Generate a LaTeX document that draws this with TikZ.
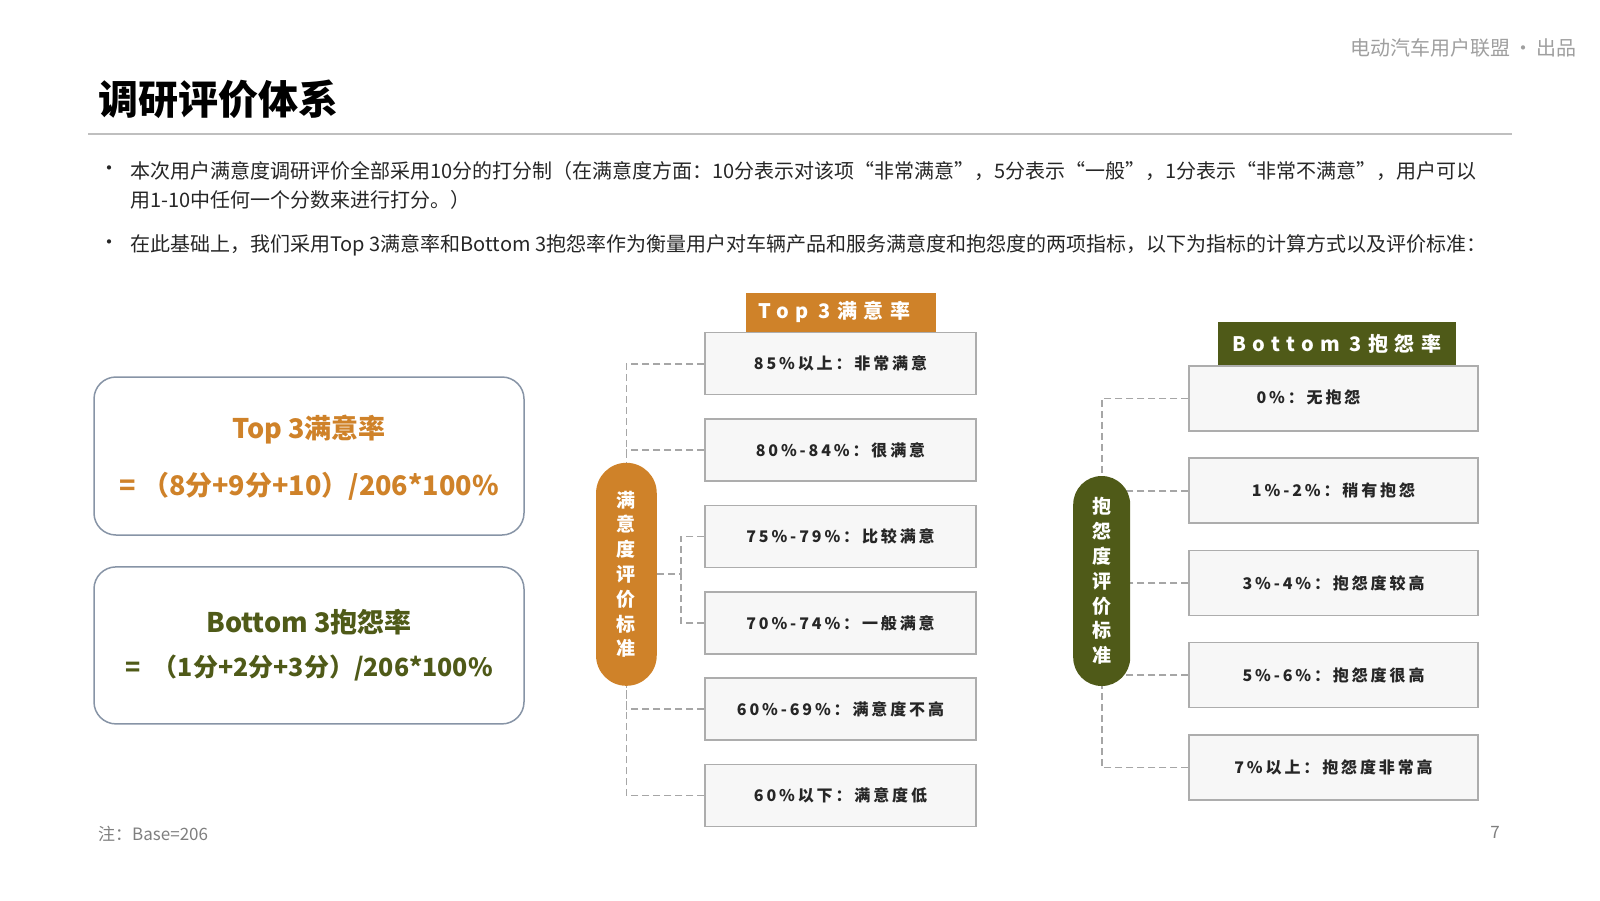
\documentclass[tikz,border=0pt]{standalone}
\usepackage{fontspec}
\setmainfont{Noto Sans CJK SC}
\newfontfamily\spacedfont{Noto Sans CJK SC}[LetterSpace=18]
\newfontfamily\headfont{Noto Sans CJK SC}[LetterSpace=32]
\usepackage{xcolor}
\usepackage{tikz}
\usetikzlibrary{positioning,backgrounds}

\definecolor{topOrange}{HTML}{CF8229}
\definecolor{botOlive}{HTML}{4F5A18}
\definecolor{boxFill}{HTML}{F7F7F7}
\definecolor{boxLine}{HTML}{ADADAD}
\definecolor{dashGray}{HTML}{A6A6A6}
\definecolor{frameBlue}{HTML}{8794A6}
\definecolor{textDark}{HTML}{262626}
\definecolor{ruleGray}{HTML}{BFBFBF}
\definecolor{noteGray}{HTML}{7F7F7F}

\newcommand{\fsz}[2]{\fontsize{#1pt}{#2pt}\selectfont}

\begin{document}
\begin{tikzpicture}[x=1pt, y=-1pt,
  bodytext/.style={anchor=west, inner sep=0pt, text=textDark, font=\fsz{20}{24}},
  levelbox/.style={draw=boxLine, line width=1.5pt, fill=boxFill, minimum width=271pt, minimum height=62pt, inner sep=0pt, text=textDark, font=\spacedfont\bfseries\fsz{16}{19}},
  ratebox/.style={levelbox, minimum width=289pt, minimum height=65pt},
  headbox/.style={fill=#1, text=white, inner sep=0pt, font=\headfont\bfseries\fsz{20}{22}},
  pillbox/.style={fill=#1, text=white, inner sep=0pt, align=center, font=\bfseries\fsz{19}{24.8}},
  formbox/.style={draw=frameBlue, line width=1.5pt, fill=white, rounded corners=22pt, minimum width=430pt, minimum height=158pt},
  formtext/.style={inner sep=0pt, font=\bfseries\fsz{27}{30}},
  dashline/.style={draw=dashGray, line width=1.8pt, dash pattern=on 7pt off 4pt}]
\useasboundingbox (0,0) rectangle (1600,900);

% Header and title
\node[anchor=east, inner sep=0pt, text=gray!75, font=\fsz{20}{22}] (brand) at (1577,48) {电动汽车用户联盟\,·\,出品};
\node[anchor=west, inner sep=0pt, text=black, font=\bfseries\fsz{40}{44}] (title) at (98,99) {调研评价体系};
\draw[ruleGray, line width=2pt] (88,134) -- (1512,134);

% Intro bullets
\node[bodytext] (dot1) at (99,171) {•};
\node[bodytext] (line1) at (130,171) {本次用户满意度调研评价全部采用10分的打分制（在满意度方面：10分表示对该项“非常满意”，5分表示“一般”，1分表示“非常不满意”，用户可以};
\node[bodytext] (line2) at (130,200) {用1-10中任何一个分数来进行打分。）};
\node[bodytext] (dot2) at (99,245) {•};
\node[bodytext] (line3) at (130,245) {在此基础上，我们采用Top 3满意率和Bottom 3抱怨率作为衡量用户对车辆产品和服务满意度和抱怨度的两项指标，以下为指标的计算方式以及评价标准：};

% Formula boxes
\node[formbox] (ftop) at (309,456) {};
\node[formtext, text=topOrange] (ftopname) at (309,430) {Top 3满意率};
\node[formtext, text=topOrange] (ftopcalc) at (309,486.7) {= （8分+9分+10）/206*100\%};
\node[formbox, minimum height=157pt] (fbot) at (309,645.4) {};
\node[formtext, text=botOlive] (fbotname) at (309,621.7) {Bottom 3抱怨率};
\node[formtext, text=botOlive, font=\bfseries\fsz{25}{28}] (fbotcalc) at (309,668.3) {=\enspace（1分+2分+3分）/206*100\%};

% Satisfaction levels
\node[levelbox] (s1) at (840.5,363.7) {85\%以上：非常满意};
\node[levelbox] (s2) at (840.5,450.1) {80\%-84\%：很满意};
\node[levelbox] (s3) at (840.5,536.4) {75\%-79\%：比较满意};
\node[levelbox] (s4) at (840.5,622.8) {70\%-74\%：一般满意};
\node[levelbox] (s5) at (840.5,709.1) {60\%-69\%：满意度不高};
\node[levelbox] (s6) at (840.5,795.5) {60\%以下：满意度低};
\node[headbox=topOrange, minimum width=190pt, minimum height=39pt, above=0pt of s1] (tophead) {Top\enspace 3满意率\hspace*{12pt}};
\node[pillbox=topOrange, minimum width=60.7pt, minimum height=223pt, rounded corners=30.3pt] (lpill) at (626.4,574.3) {满\\意\\度\\评\\价\\标\\准};
\coordinate[right=24pt of lpill.east] (lmid);

% Complaint levels
\node[ratebox] (b1) at (1333.5,398.5) {\raisebox{3.5pt}{0\%：无抱怨}\hspace*{50pt}};
\node[ratebox] (b2) at (1333.5,490.7) {1\%-2\%：稍有抱怨};
\node[ratebox] (b3) at (1333.5,583) {3\%-4\%：抱怨度较高};
\node[ratebox] (b4) at (1333.5,675.2) {5\%-6\%：抱怨度很高};
\node[ratebox] (b5) at (1333.5,767.5) {7\%以上：抱怨度非常高};
\node[headbox=botOlive, minimum width=238pt, minimum height=43pt, above=0pt of b1, xshift=3.5pt] (bothead) {Bottom\enspace 3抱怨率};
\node[pillbox=botOlive, minimum width=57pt, minimum height=210pt, rounded corners=28.5pt] (rpill) at (1101.7,581) {抱\\怨\\度\\评\\价\\标\\准};

% Dashed links
\begin{scope}[on background layer]
\draw[dashline] (s1.west) -| (lpill.north);
\draw[dashline] (s2.west) -- (s2.west -| lpill.north);
\draw[dashline] (lpill.east) -- (lmid);
\draw[dashline] (s3.west) -| (lmid);
\draw[dashline] (s4.west) -| (lmid);
\draw[dashline] (s5.west) -| (lpill.south);
\draw[dashline] (s6.west) -| (lpill.south);

\draw[dashline] (b1.west) -| (rpill.north);
\draw[dashline] (b2.west) -- (b2.west -| rpill.center);
\draw[dashline] (b3.west) -- (b3.west -| rpill.east);
\draw[dashline] (b4.west) -- (b4.west -| rpill.center);
\draw[dashline] (b5.west) -| (rpill.south);
\end{scope}

% Footer
\node[anchor=west, inner sep=0pt, text=noteGray, font=\fsz{17}{19}] (note) at (98,834) {注：Base=206};
\node[inner sep=0pt, text=noteGray, font=\fsz{17}{19}] (pagenum) at (1495,832) {7};
\end{tikzpicture}
\end{document}
